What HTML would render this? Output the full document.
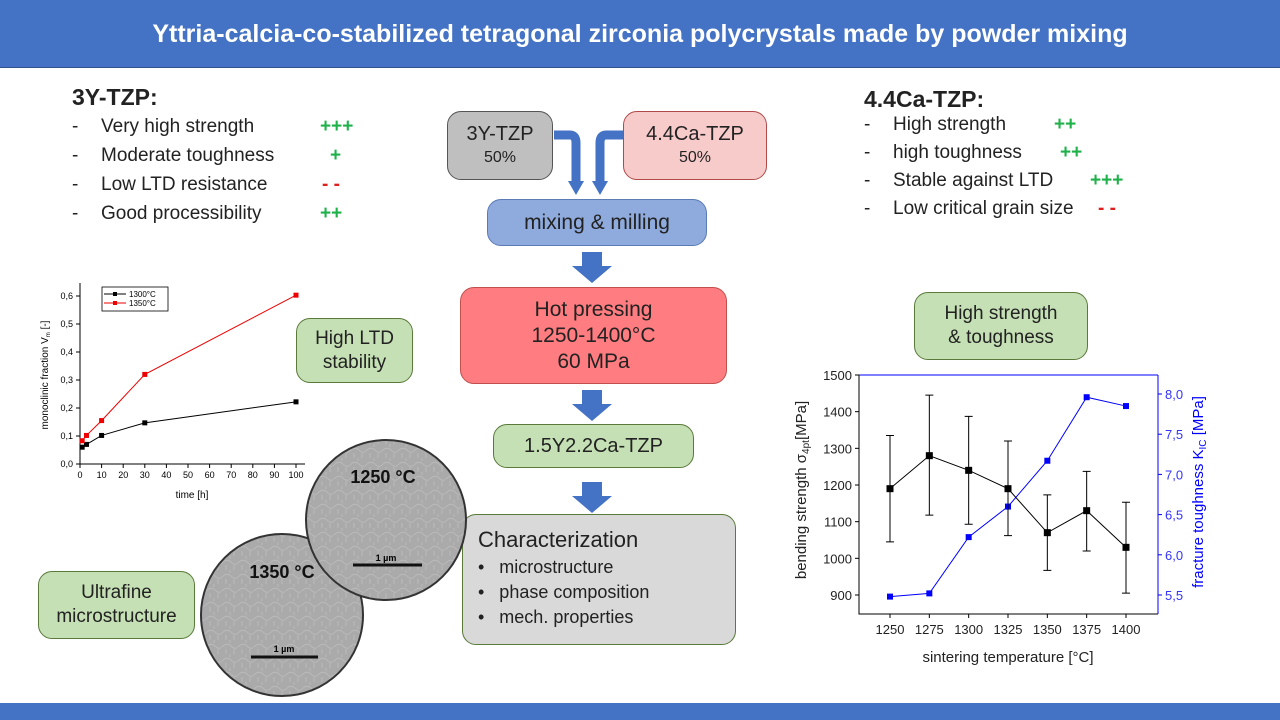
<!DOCTYPE html>
<html><head><meta charset="utf-8"><style>
*{margin:0;padding:0;box-sizing:border-box}
body{width:1280px;height:720px;background:#fff;position:relative;overflow:hidden;font-family:"Liberation Sans",Arial,sans-serif;color:#222}
.abs{position:absolute}
.box{position:absolute;border-radius:14px;border:1.5px solid #555;display:flex;flex-direction:column;align-items:center;justify-content:center;text-align:center}
.green{background:#c5e0b4;border-color:#5a7a3a}
ul.l{list-style:none}
.l li{position:relative;padding-left:37px;font-size:19px;height:29px;white-space:nowrap}
.l li:before{content:"-";position:absolute;left:8px}
.gp{color:#1fb24a;font-weight:bold;white-space:nowrap}
.rm{color:#e02020;font-weight:bold;white-space:nowrap}
.arrow{position:absolute}
</style></head><body>
<div class="abs" style="left:0;top:0;width:1280px;height:68px;background:#4472c4;border-bottom:1px solid #2f528f;color:#fff;font-size:25px;font-weight:bold;text-align:center;line-height:68px">Yttria-calcia-co-stabilized tetragonal zirconia polycrystals made by powder mixing</div>
<div class="abs" style="left:0;top:703px;width:1280px;height:17px;background:#4472c4"></div>

<div class="abs" style="left:72px;top:84px;font-size:23px;font-weight:bold">3Y-TZP:</div>
<ul class="l abs" style="left:64px;top:116px">
<li>Very high strength <span class="gp" style="position:absolute;left:256px">+++</span></li>
<li>Moderate toughness <span class="gp" style="position:absolute;left:266px">+</span></li>
<li>Low LTD resistance <span class="rm" style="position:absolute;left:258px">- -</span></li>
<li>Good processibility <span class="gp" style="position:absolute;left:256px">++</span></li>
</ul>
<div class="abs" style="left:864px;top:86px;font-size:23px;font-weight:bold">4.4Ca-TZP:</div>
<ul class="l abs" style="left:856px;top:114px">
<li style="height:28px">High strength <span class="gp" style="position:absolute;left:198px">++</span></li>
<li style="height:28px">high toughness <span class="gp" style="position:absolute;left:204px">++</span></li>
<li style="height:28px">Stable against LTD <span class="gp" style="position:absolute;left:234px">+++</span></li>
<li style="height:28px">Low critical grain size <span class="rm" style="position:absolute;left:242px">- -</span></li>
</ul>

<div class="box" style="left:447px;top:111px;width:106px;height:69px;background:#bfbfbf;font-size:20px;line-height:24px"><div>3Y-TZP</div><div style="font-size:16px">50%</div></div>
<div class="box" style="left:623px;top:111px;width:144px;height:69px;background:#f8cbcb;border-color:#b04a4a;font-size:20px;line-height:24px"><div>4.4Ca-TZP</div><div style="font-size:16px">50%</div></div>
<svg class="arrow" style="left:550px;top:125px" width="80" height="72">
<path d="M4 10 H20 Q26 10 26 18 V58" stroke="#4472c4" stroke-width="9" fill="none"/>
<path d="M73 10 H56 Q50 10 50 18 V58" stroke="#4472c4" stroke-width="9" fill="none"/>
<polygon points="18,56 34,56 26,70" fill="#4472c4"/><polygon points="42,56 58,56 50,70" fill="#4472c4"/></svg>
<div class="box" style="left:487px;top:199px;width:220px;height:47px;background:#8faadc;border-color:#5b7bb5;font-size:21px">mixing &amp; milling</div>
<svg class="arrow" style="left:570px;top:252px" width="44" height="32"><polygon points="12,0 32,0 32,14 42,14 22,31 2,14 12,14" fill="#4472c4"/></svg>
<div class="box" style="left:460px;top:287px;width:267px;height:97px;background:#ff7c80;border-color:#c0504d;font-size:21px;line-height:26px"><div>Hot pressing</div><div>1250-1400°C</div><div>60 MPa</div></div>
<svg class="arrow" style="left:570px;top:390px" width="44" height="32"><polygon points="12,0 32,0 32,14 42,14 22,31 2,14 12,14" fill="#4472c4"/></svg>
<div class="box" style="left:493px;top:424px;width:201px;height:44px;background:#c5e0b4;border-color:#5a7a3a;font-size:20px">1.5Y2.2Ca-TZP</div>
<svg class="arrow" style="left:570px;top:482px" width="44" height="32"><polygon points="12,0 32,0 32,14 42,14 22,31 2,14 12,14" fill="#4472c4"/></svg>
<div class="box" style="left:462px;top:514px;width:274px;height:131px;background:#d9d9d9;border-color:#5a7a3a;align-items:flex-start;justify-content:flex-start;text-align:left;padding:12px 0 0 15px">
<div style="font-size:22px">Characterization</div>
<div style="font-size:18px;line-height:25px;margin-top:2px">•&nbsp;&nbsp;&nbsp;microstructure<br>•&nbsp;&nbsp;&nbsp;phase composition<br>•&nbsp;&nbsp;&nbsp;mech. properties</div></div>

<div class="box green" style="left:296px;top:318px;width:117px;height:65px;font-size:19px;line-height:24px">High LTD<br>stability</div>
<div class="box green" style="left:38px;top:571px;width:157px;height:68px;font-size:19px;line-height:24px">Ultrafine<br>microstructure</div>
<div class="box green" style="left:914px;top:292px;width:174px;height:68px;font-size:19px;line-height:24px">High strength<br>&amp; toughness</div>

<svg class="abs" style="left:190px;top:430px" width="290" height="275">
<defs><pattern id="gr" width="16" height="14" patternUnits="userSpaceOnUse"><rect width="16" height="14" fill="#aaaaaa"/><path d="M0 7 Q5 2 9 6 T16 7 M8 0 V3 M4 9 V14 M12 9 V14" stroke="#bdbdbd" stroke-width="0.8" fill="none"/></pattern></defs>
<g><circle cx="92" cy="185" r="81" fill="url(#gr)" stroke="#333" stroke-width="2"/>
<text x="92" y="148" font-size="18" font-weight="bold" text-anchor="middle" fill="#111">1350 °C</text>
<line x1="61" y1="227" x2="128" y2="227" stroke="#111" stroke-width="3"/><text x="94" y="222" font-size="9" font-weight="bold" text-anchor="middle">1 µm</text></g>
<g><circle cx="196" cy="90" r="80" fill="url(#gr)" stroke="#333" stroke-width="2"/>
<text x="193" y="53" font-size="18" font-weight="bold" text-anchor="middle" fill="#111">1250 °C</text>
<line x1="163" y1="135" x2="232" y2="135" stroke="#111" stroke-width="3"/><text x="196" y="131" font-size="9" font-weight="bold" text-anchor="middle">1 µm</text></g>
</svg>

<svg class="abs" id="c1" style="left:0;top:0" width="1280" height="720"></svg>
<svg class="abs" id="c2" style="left:0;top:0" width="1280" height="720"></svg>
<script>
const ltdTimes=[1,3,10,30,100];
const ltd1300=[0.06,0.07,0.102,0.147,0.222];
const ltd1350=[0.083,0.102,0.155,0.32,0.603];
const ltdYTicks=["0,0","0,1","0,2","0,3","0,4","0,5","0,6"];
const ltdXTicks=[0,10,20,30,40,50,60,70,80,90,100];

const temps=[1250,1275,1300,1325,1350,1375,1400];
const strength=[1190,1280,1240,1190,1070,1130,1030];
const strengthHi=[1335,1445,1387,1320,1173,1237,1153];
const strengthLo=[1045,1118,1093,1062,967,1020,905];
const toughness=[5.48,5.52,6.22,6.6,7.17,7.96,7.85];
const strengthTicks=[900,1000,1100,1200,1300,1400,1500];
const toughTicks=["5,5","6,0","6,5","7,0","7,5","8,0"];

const NS="http://www.w3.org/2000/svg";
function mk(p,tag,at,txt){const e=document.createElementNS(NS,tag);for(const k in at)e.setAttribute(k,at[k]);if(txt!=null)e.textContent=txt;p.appendChild(e);return e;}

(function(){
const s=document.getElementById('c1');
const X=t=>80+t*2.16, Y=v=>464-v*280;
const ax=mk(s,'path',{d:'M80 283 V464 H305',stroke:'#000','stroke-width':1,fill:'none'});

ltdYTicks.forEach((t,i)=>{const y=Y(i*0.1);mk(s,'line',{x1:76,x2:80,y1:y,y2:y,stroke:'#000'});
const e=mk(s,'text',{x:73,y:y+3,'font-size':9,'text-anchor':'end'},t);
});
ltdXTicks.forEach(t=>{const x=X(t);mk(s,'line',{x1:x,x2:x,y1:464,y2:468,stroke:'#000'});
const e=mk(s,'text',{x:x,y:478,'font-size':9,'text-anchor':'middle'},t);
});
let e=mk(s,'text',{x:192,y:498,'font-size':10,'text-anchor':'middle'},'time [h]');

e=mk(s,'text',{x:0,y:0,'font-size':10,'text-anchor':'middle',transform:'translate(48,375) rotate(-90)'},'monoclinic fraction V');

mk(e,'tspan',{'font-size':6,dy:2},'m');mk(e,'tspan',{dy:-2},' [-]');
[[ltd1300,'#000','1300°C'],[ltd1350,'#e00','1350°C']].forEach(([d,c,n],k)=>{
const l=mk(s,'polyline',{points:d.map((v,i)=>X(ltdTimes[i])+','+Y(v)).join(' '),stroke:c,fill:'none','stroke-width':1});

d.forEach((v,i)=>{const r=mk(s,'rect',{x:X(ltdTimes[i])-2.5,y:Y(v)-2.5,width:5,height:5,fill:c});
});
const ly=294+k*9;mk(s,'line',{x1:104,x2:126,y1:ly,y2:ly,stroke:c});mk(s,'rect',{x:113,y:ly-2,width:4,height:4,fill:c});
const t=mk(s,'text',{x:129,y:ly+3,'font-size':8},n);});
mk(s,'rect',{x:102,y:287,width:66,height:24,fill:'none',stroke:'#000','stroke-width':0.8});
})();

(function(){
const s=document.getElementById('c2');
const X=t=>890+(t-1250)*236/150, Y=v=>595-(v-900)*220/600, Y2=v=>595-(v-5.5)*201/2.5;
let a=mk(s,'path',{d:'M859 375 V614 H1158',stroke:'#000',fill:'none'});
mk(s,'line',{x1:859,x2:1158,y1:375,y2:375,stroke:'#00f'});
mk(s,'line',{x1:1158,x2:1158,y1:375,y2:614,stroke:'#00f'});
strengthTicks.forEach(t=>{const y=Y(t);mk(s,'line',{x1:855,x2:859,y1:y,y2:y,stroke:'#000'});
const e=mk(s,'text',{x:852,y:y+5,'font-size':13,'text-anchor':'end',fill:'#222'},t);});
toughTicks.forEach((t,i)=>{const y=Y2(5.5+i*0.5);mk(s,'line',{x1:1158,x2:1162,y1:y,y2:y,stroke:'#00f'});
const e=mk(s,'text',{x:1165,y:y+5,'font-size':13,fill:'#33f'},t);});
temps.forEach(t=>{const x=X(t);mk(s,'line',{x1:x,x2:x,y1:614,y2:618,stroke:'#000'});
const e=mk(s,'text',{x:x,y:634,'font-size':13,'text-anchor':'middle',fill:'#222'},t);});
let e=mk(s,'text',{x:1008,y:662,'font-size':15,'text-anchor':'middle',fill:'#222'},'sintering temperature [°C]');
e=mk(s,'text',{x:0,y:0,'font-size':15,'text-anchor':'middle',fill:'#222',transform:'translate(806,490) rotate(-90)'},'bending strength σ');
mk(e,'tspan',{'font-size':10,dy:3},'4pt');mk(e,'tspan',{dy:-3},'[MPa]');
e=mk(s,'text',{x:0,y:0,'font-size':15,'text-anchor':'middle',fill:'#00f',transform:'translate(1203,492) rotate(-90)'},'fracture toughness K');
mk(e,'tspan',{'font-size':10,dy:3},'IC');mk(e,'tspan',{dy:-3},' [MPa]');
let l=mk(s,'polyline',{points:toughness.map((v,i)=>X(temps[i])+','+Y2(v)).join(' '),stroke:'#00f',fill:'none'});
toughness.forEach((v,i)=>{const r=mk(s,'rect',{x:X(temps[i])-3,y:Y2(v)-3,width:6,height:6,fill:'#00f'});});
l=mk(s,'polyline',{points:strength.map((v,i)=>X(temps[i])+','+Y(v)).join(' '),stroke:'#000',fill:'none'});
strength.forEach((v,i)=>{const x=X(temps[i]);
const b=mk(s,'path',{d:`M${x} ${Y(strengthHi[i])} V${Y(strengthLo[i])} M${x-4} ${Y(strengthHi[i])} H${x+4} M${x-4} ${Y(strengthLo[i])} H${x+4}`,stroke:'#000',fill:'none'});

const r=mk(s,'rect',{x:x-3.5,y:Y(v)-3.5,width:7,height:7,fill:'#000'});});
})();
</script>
</body></html>
